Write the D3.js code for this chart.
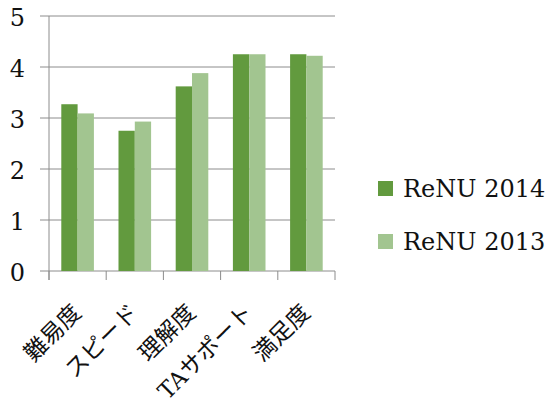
<!DOCTYPE html>
<html>
<head>
<meta charset="utf-8">
<script src="https://cdn.jsdelivr.net/npm/d3@7"></script>
<style>
  body { margin: 0; background: #fff; }
  text { font-family: "DejaVu Serif", "Noto Sans CJK JP", serif; fill: #111; }
</style>
</head>
<body>
<script>
var categories = ["難易度", "スピード", "理解度", "TAサポート", "満足度"];
var series = ["ReNU 2014", "ReNU 2013"];
var renu2014 = [3.27, 2.75, 3.62, 4.25, 4.25];
var renu2013 = [3.09, 2.93, 3.88, 4.25, 4.22];
var yTicks = [0, 1, 2, 3, 4, 5];
var colors = ["#629a3e", "#a2c590"];

var width = 546, height = 414,
  margin = {top: 16, right: 211, bottom: 143, left: 49};

var svg = d3.select("body").append("svg")
  .attr("width", width)
  .attr("height", height);

var x = d3.scaleBand()
  .domain(categories)
  .range([margin.left, width - margin.right])
  .paddingInner(0.43)
  .paddingOuter(0.215);

var band = d3.scaleBand()
  .domain(d3.range(series.length))
  .range([0, x.bandwidth()]);

var y = d3.scaleLinear()
  .domain([0, 5])
  .range([height - margin.bottom, margin.top]);

var x0 = margin.left, x1 = width - margin.right;

// gridlines
svg.append("g").selectAll("line")
  .data(yTicks)
  .enter().append("line")
  .attr("x1", x0 - 9).attr("x2", x1)
  .attr("y1", d => y(d)).attr("y2", d => y(d))
  .attr("stroke", "#8c8c8c").attr("stroke-width", 1);

// bars
var data = [renu2014, renu2013];
data.forEach((vals, s) => {
  svg.append("g").selectAll("rect")
    .data(vals)
    .enter().append("rect")
    .attr("x", (d, i) => x(categories[i]) + band(s))
    .attr("width", band.bandwidth())
    .attr("y", d => y(d))
    .attr("height", d => y(0) - y(d))
    .attr("fill", colors[s]);
});

// y axis line
svg.append("line")
  .attr("x1", x0).attr("x2", x0)
  .attr("y1", y(5)).attr("y2", y(0) + 9)
  .attr("stroke", "#8c8c8c");

// category ticks
var bounds = d3.range(categories.length + 1).map(i => x0 + i * (x1 - x0) / categories.length);
svg.append("g").selectAll("line")
  .data(bounds)
  .enter().append("line")
  .attr("x1", d => d).attr("x2", d => d)
  .attr("y1", y(0)).attr("y2", y(0) + 9)
  .attr("stroke", "#8c8c8c");

// y labels
svg.append("g").selectAll("text")
  .data(yTicks)
  .enter().append("text")
  .attr("x", 25)
  .attr("y", d => y(d) + 10)
  .attr("text-anchor", "end")
  .style("font-size", "24px")
  .text(d => d);

// x labels
svg.append("g").selectAll("text")
  .data(categories)
  .enter().append("text")
  .attr("transform", d => "translate(" + (x(d) + x.bandwidth() / 2 + 5) + "," + (y(0) + 43) + ") rotate(-45)")
  .attr("text-anchor", "end")
  .style("font-size", "23px")
  .text(d => d);

// legend
var legend = svg.append("g").selectAll("g")
  .data(series)
  .enter().append("g")
  .attr("transform", (d, i) => "translate(378," + (181 + i * 53) + ")");
legend.append("rect")
  .attr("width", 15).attr("height", 15)
  .attr("fill", (d, i) => colors[i]);
legend.append("text")
  .attr("x", 25).attr("y", 16)
  .style("font-size", "24px")
  .text(d => d);
</script>
</body>
</html>
